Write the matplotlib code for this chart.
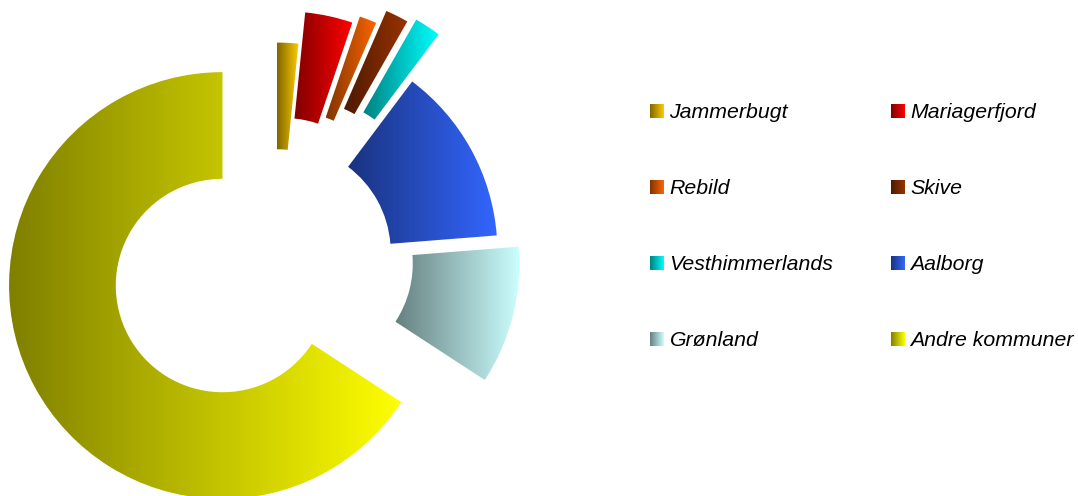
import numpy as np
import matplotlib
matplotlib.use("Agg")
import matplotlib.pyplot as plt
from matplotlib.patches import Wedge, Rectangle
from matplotlib.colors import to_rgb

labels = ["Jammerbugt", "Mariagerfjord", "Rebild", "Skive",
          "Vesthimmerlands", "Aalborg", "Grønland", "Andre kommuner"]
shares = [1.6, 3.6, 1.3, 1.75, 2.0, 13.5, 10.45, 65.8]
colors = ["#FFCC00", "#FF0000", "#FF6600", "#993300",
          "#00FFFF", "#3366FF", "#CCFFFF", "#FFFF00"]
explode = [0, 32, 40, 55, 61, 8, 30, 62]  # pixels

W, H = 1078, 496
fig = plt.figure(figsize=(W / 100, H / 100), dpi=100)
ax = fig.add_axes([0, 0, 1, 1])

cx, cy = 277, 240
r_out, r_in = 213.4, 106.7


def grad_fill(patch, color, x0, x1, y0, y1):
    # horizontal gradient: half brightness on the left, full colour on the right
    rgb = np.array(to_rgb(color))
    t = np.linspace(0.5, 1.0, 256)
    img = (t[:, None] * rgb[None, :])[None, :, :]
    im = ax.imshow(img, extent=[x0, x1, y0, y1], aspect="auto",
                   interpolation="bilinear", zorder=2)
    im.set_clip_path(patch)


start = 90.0
for lab, val, col, d in zip(labels, shares, colors, explode):
    sweep = val * 3.6
    t2 = start
    t1 = start - sweep
    start = t1
    mid = np.radians((t1 + t2) / 2)
    center = (cx + d * np.cos(mid), cy + d * np.sin(mid))
    w = Wedge(center, r_out, t1, t2, width=r_out - r_in,
              facecolor="none", edgecolor="none", linewidth=0)
    ax.add_patch(w)
    ext = w.get_path().get_extents()
    grad_fill(w, col, ext.x0, ext.x1, ext.y0, ext.y1)

# legend, two columns
col_x = [650, 891]
row_y = [118, 194, 270, 346]  # baseline / marker bottom, pixels from top
for i, (lab, col) in enumerate(zip(labels, colors)):
    x = col_x[i % 2]
    yb = H - row_y[i // 2]
    sq = Rectangle((x, yb), 14, 14, facecolor="none", edgecolor="none")
    ax.add_patch(sq)
    grad_fill(sq, col, x, x + 14, yb, yb + 14)
    ax.text(x + 19.5, yb, lab, fontsize=15.3, style="italic",
            family="Liberation Sans", va="baseline", ha="left", color="black")

ax.set_xlim(0, W)
ax.set_ylim(0, H)
ax.axis("off")

fig.savefig("out.png", dpi=100, facecolor="white")
